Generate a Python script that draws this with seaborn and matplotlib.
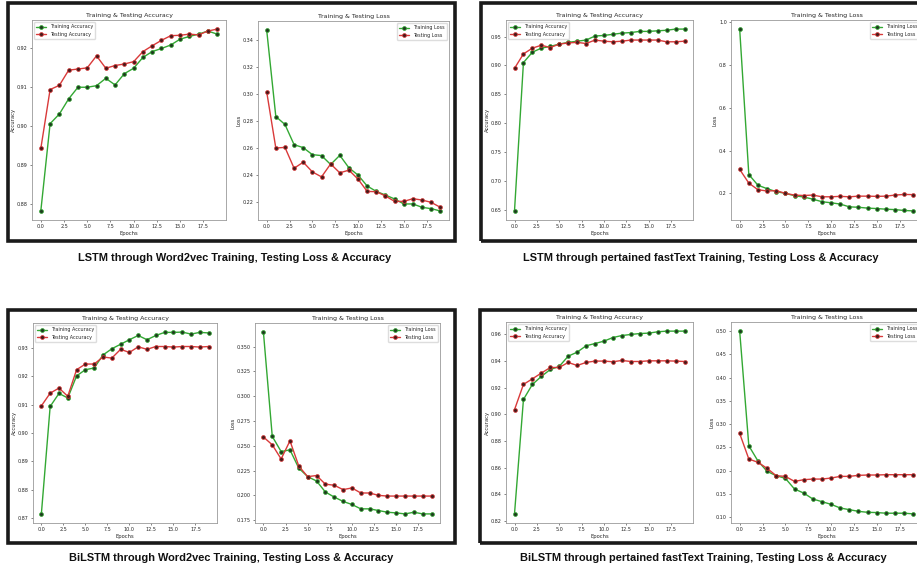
import numpy as np
import pandas as pd
import matplotlib
matplotlib.use("Agg")
import matplotlib.pyplot as plt
import matplotlib.patches as patches
import seaborn as sns

# epochs shared by all panels
epochs = list(range(20))

# LSTM + Word2vec
lw2v_train_acc = [0.8781, 0.9006, 0.9031, 0.9070, 0.9100, 0.9100, 0.9104, 0.9123, 0.9106, 0.9135,
                  0.9149, 0.9177, 0.9192, 0.9200, 0.9209, 0.9224, 0.9231, 0.9237, 0.9245, 0.9237]
lw2v_test_acc = [0.8942, 0.9094, 0.9105, 0.9144, 0.9147, 0.9150, 0.9181, 0.9149, 0.9156, 0.9160,
                 0.9166, 0.9192, 0.9207, 0.9221, 0.9233, 0.9234, 0.9237, 0.9235, 0.9245, 0.9250]
lw2v_train_loss = [0.3474, 0.2832, 0.2773, 0.2623, 0.2601, 0.2549, 0.2542, 0.2476, 0.2544, 0.2451,
                   0.2397, 0.2316, 0.2276, 0.2249, 0.2220, 0.2183, 0.2183, 0.2158, 0.2148, 0.2131]
lw2v_test_loss = [0.3016, 0.2598, 0.2603, 0.2448, 0.2493, 0.2421, 0.2384, 0.2480, 0.2414, 0.2434,
                  0.2367, 0.2276, 0.2274, 0.2242, 0.2202, 0.2202, 0.2222, 0.2212, 0.2195, 0.2158]

# LSTM + fastText
lft_train_acc = [0.648, 0.905, 0.923, 0.930, 0.933, 0.937, 0.940, 0.942, 0.944, 0.951,
                 0.952, 0.954, 0.956, 0.957, 0.959, 0.959, 0.960, 0.961, 0.963, 0.963]
lft_test_acc = [0.895, 0.920, 0.930, 0.935, 0.931, 0.937, 0.939, 0.940, 0.938, 0.944,
                0.942, 0.941, 0.942, 0.944, 0.944, 0.944, 0.944, 0.941, 0.941, 0.942]
lft_train_loss = [0.968, 0.288, 0.238, 0.222, 0.208, 0.200, 0.189, 0.183, 0.173, 0.161,
                  0.156, 0.150, 0.137, 0.135, 0.131, 0.129, 0.126, 0.124, 0.120, 0.118]
lft_test_loss = [0.312, 0.248, 0.217, 0.211, 0.213, 0.200, 0.192, 0.190, 0.192, 0.184,
                 0.184, 0.186, 0.184, 0.187, 0.187, 0.186, 0.187, 0.192, 0.195, 0.194]

# BiLSTM + Word2vec
bw2v_train_acc = [0.8714, 0.9094, 0.9140, 0.9124, 0.9202, 0.9224, 0.9230, 0.9276, 0.9298, 0.9314,
                  0.9330, 0.9345, 0.9330, 0.9345, 0.9356, 0.9356, 0.9357, 0.9350, 0.9356, 0.9354]
bw2v_test_acc = [0.9096, 0.9141, 0.9159, 0.9130, 0.9224, 0.9244, 0.9244, 0.9269, 0.9265, 0.9296,
                 0.9285, 0.9305, 0.9296, 0.9306, 0.9306, 0.9304, 0.9306, 0.9306, 0.9304, 0.9306]
bw2v_train_loss = [0.3647, 0.2595, 0.2442, 0.2459, 0.2274, 0.2189, 0.2145, 0.2034, 0.1983, 0.1939,
                   0.1908, 0.1864, 0.1864, 0.1847, 0.1830, 0.1823, 0.1813, 0.1830, 0.1813, 0.1813]
bw2v_test_loss = [0.2589, 0.2510, 0.2367, 0.2550, 0.2295, 0.2189, 0.2200, 0.2113, 0.2102, 0.2058,
                  0.2075, 0.2024, 0.2024, 0.2000, 0.1993, 0.1993, 0.1993, 0.1993, 0.1993, 0.1993]

# BiLSTM + fastText
bft_train_acc = [0.8253, 0.9112, 0.9225, 0.9285, 0.9337, 0.9360, 0.9437, 0.9467, 0.9515, 0.9532,
                 0.9550, 0.9577, 0.9592, 0.9600, 0.9607, 0.9610, 0.9620, 0.9625, 0.9625, 0.9625]
bft_test_acc = [0.9035, 0.9225, 0.9267, 0.9310, 0.9352, 0.9352, 0.9390, 0.9367, 0.9390, 0.9400,
                0.9400, 0.9395, 0.9405, 0.9397, 0.9397, 0.9402, 0.9402, 0.9402, 0.9400, 0.9397]
bft_train_loss = [0.500, 0.2536, 0.2208, 0.1986, 0.1892, 0.1835, 0.1606, 0.1520, 0.1392, 0.1334,
                  0.1277, 0.1198, 0.1162, 0.1126, 0.1105, 0.1100, 0.1086, 0.1086, 0.1086, 0.1072]
bft_test_loss = [0.280, 0.2251, 0.2180, 0.2050, 0.1892, 0.1878, 0.1770, 0.1806, 0.1820, 0.1820,
                 0.1842, 0.1878, 0.1878, 0.1900, 0.1907, 0.1907, 0.1914, 0.1914, 0.1914, 0.1914]

captions = ["LSTM through Word2vec Training, Testing Loss & Accuracy",
            "LSTM through pertained fastText Training, Testing Loss & Accuracy",
            "BiLSTM through Word2vec Training, Testing Loss & Accuracy",
            "BiLSTM through pertained fastText Training, Testing Loss & Accuracy"]

sns.set_theme(style="white")
plt.rcParams['font.family'] = ['DejaVu Sans']

W, H = 917, 568
fig = plt.figure(figsize=(W / 100, H / 100), dpi=100)


def px_axes(x0, x1, y0, y1):
    return fig.add_axes([x0 / W, 1 - y1 / H, (x1 - x0) / W, (y1 - y0) / H])


def px_box(x0, x1, y0, y1):
    r = patches.Rectangle((x0 / W, 1 - y1 / H), (x1 - x0) / W, (y1 - y0) / H,
                          transform=fig.transFigure, fill=False, edgecolor="#1a1a1a", lw=2.6)
    fig.patches.append(r)


def draw(ax, train, test, kind, loc, ticks):
    sns.lineplot(x=epochs, y=train, ax=ax, color="#33a833", lw=1.0, marker="o", markersize=2.8,
                 markerfacecolor="#1f3d1f", markeredgecolor="#33a833", markeredgewidth=0.5,
                 label="Training " + kind)
    sns.lineplot(x=epochs, y=test, ax=ax, color="#d93a3a", lw=1.0, marker="o", markersize=2.8,
                 markerfacecolor="#4a1a1a", markeredgecolor="#d93a3a", markeredgewidth=0.5,
                 label="Testing " + kind)
    ax.set_title("Training & Testing " + kind, fontsize=4.5, pad=2)
    ax.set_xlabel("Epochs", fontsize=3.8, labelpad=1)
    ax.set_ylabel(kind, fontsize=3.8, labelpad=1)
    ax.set_xticks([0, 2.5, 5, 7.5, 10, 12.5, 15, 17.5])
    ax.set_yticks(ticks)
    ax.tick_params(labelsize=3.5, length=1.5, width=0.4, pad=1.5, left=True, bottom=True)
    for s in ax.spines.values():
        s.set_color("#9a9a9a")
        s.set_linewidth(0.6)
    ax.legend(loc=loc, fontsize=3.5, frameon=True, framealpha=1, edgecolor="#dddddd",
              handlelength=2, borderpad=0.4)


# boxes around each pair
px_box(8, 455, 3, 241)
px_box(481, 930, 3, 241)
px_box(8, 455, 310, 543)
px_box(480, 930, 310, 543)

ax = px_axes(32, 226, 20, 220)
draw(ax, lw2v_train_acc, lw2v_test_acc, "Accuracy", "upper left", [0.88, 0.89, 0.90, 0.91, 0.92])
ax = px_axes(258, 449, 21, 220)
draw(ax, lw2v_train_loss, lw2v_test_loss, "Loss", "upper right", [0.22, 0.24, 0.26, 0.28, 0.30, 0.32, 0.34])

ax = px_axes(506, 693, 20, 220)
draw(ax, lft_train_acc, lft_test_acc, "Accuracy", "upper left", [0.65, 0.70, 0.75, 0.80, 0.85, 0.90, 0.95])
ax = px_axes(731, 922, 20, 220)
draw(ax, lft_train_loss, lft_test_loss, "Loss", "upper right", [0.2, 0.4, 0.6, 0.8, 1.0])

ax = px_axes(33, 217, 323, 523)
draw(ax, bw2v_train_acc, bw2v_test_acc, "Accuracy", "upper left", [0.87, 0.88, 0.89, 0.90, 0.91, 0.92, 0.93])
ax = px_axes(255, 440, 323, 523)
draw(ax, bw2v_train_loss, bw2v_test_loss, "Loss", "upper right",
     [0.175, 0.200, 0.225, 0.250, 0.275, 0.300, 0.325, 0.350])

ax = px_axes(506, 693, 322, 523)
draw(ax, bft_train_acc, bft_test_acc, "Accuracy", "upper left", [0.82, 0.84, 0.86, 0.88, 0.90, 0.92, 0.94, 0.96])
ax = px_axes(731, 922, 322, 523)
draw(ax, bft_train_loss, bft_test_loss, "Loss", "upper right", [0.10, 0.15, 0.20, 0.25, 0.30, 0.35, 0.40, 0.45, 0.50])

cap_font = ['Liberation Sans', 'DejaVu Sans']
for (cx, cy), txt in zip([(235, 258), (701, 258), (231, 558), (703, 558)], captions):
    fig.text(cx / W, 1 - cy / H, txt, ha="center", va="center", fontsize=7.95,
             fontweight="bold", family=cap_font, color="#111111")

fig.savefig("out.png", dpi=100)
